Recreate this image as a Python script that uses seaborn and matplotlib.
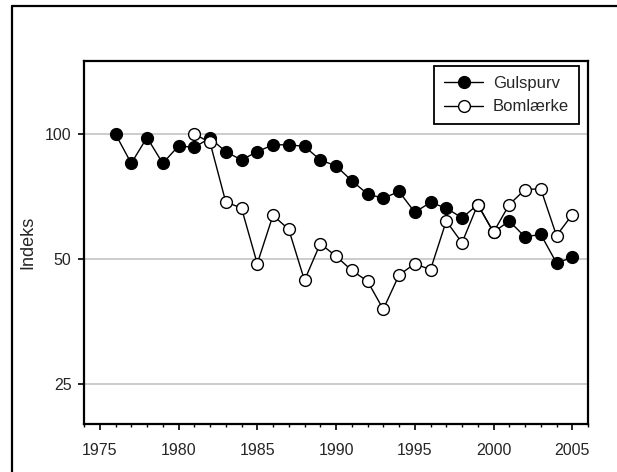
import matplotlib
matplotlib.use("Agg")
import matplotlib.pyplot as plt
from matplotlib.lines import Line2D
from matplotlib.ticker import FixedLocator, FixedFormatter, MultipleLocator, NullLocator
import numpy as np
import pandas as pd
import seaborn as sns

# Index values per year (1976 = 100 for Gulspurv, 1981 = 100 for Bomlærke)
years_gulspurv = list(range(1976, 2006))
gulspurv = [100, 85.0, 98.1, 85.0, 93.6, 92.9, 97.8, 90.7, 86.6, 90.7,
            94.2, 94.2, 93.4, 86.6, 83.8, 77.2, 71.7, 70.0, 72.7, 64.8,
            68.4, 66.3, 62.8, 67.6, 58.0, 61.7, 56.5, 57.3, 48.9, 50.4]

years_bomlaerke = list(range(1981, 2006))
bomlaerke = [100, 95.5, 68.6, 66.3, 48.7, 63.7, 58.9, 44.4, 54.4, 50.8,
             46.9, 44.2, 37.8, 45.7, 48.7, 47.1, 61.7, 54.7, 67.6, 58.0,
             67.6, 73.5, 73.8, 56.9, 63.9]

y_ticks = [25, 50, 100]
y_tick_labels = ["25", "50", "100"]
x_ticks = [1975, 1980, 1985, 1990, 1995, 2000, 2005]

df_g = pd.DataFrame({"År": years_gulspurv, "Indeks": gulspurv})
df_b = pd.DataFrame({"År": years_bomlaerke, "Indeks": bomlaerke})

sns.set_style("white")
plt.rcParams["font.family"] = ["Liberation Sans", "DejaVu Sans"]

fig = plt.figure(figsize=(6.17, 4.72), dpi=100)
ax = fig.add_axes([84 / 617, 1 - 424 / 472, (588 - 84) / 617, (424 - 61) / 472])

common = dict(color="black", linewidth=1.0, markersize=8.5,
              markeredgecolor="black", markeredgewidth=1.0, ax=ax)
sns.lineplot(data=df_g, x="År", y="Indeks", marker="o",
             markerfacecolor="black", label="Gulspurv", zorder=3, **common)
sns.lineplot(data=df_b, x="År", y="Indeks", marker="o",
             markerfacecolor="white", label="Bomlærke", zorder=4, **common)

ax.set_yscale("log")
ax.set_ylim(20, 150)
ax.set_xlim(1974, 2006)

ax.yaxis.set_major_locator(FixedLocator(y_ticks))
ax.yaxis.set_major_formatter(FixedFormatter(y_tick_labels))
ax.yaxis.set_minor_locator(NullLocator())
ax.xaxis.set_major_locator(FixedLocator(x_ticks))
ax.xaxis.set_minor_locator(MultipleLocator(1))

ax.grid(axis="y", which="major", color="#c8c8c8", linewidth=1.3, zorder=0)
ax.set_axisbelow(True)

ax.tick_params(axis="both", which="major", direction="out", length=4.5,
               width=1.2, color="black", labelsize=11.5, pad=4.5,
               bottom=True, left=True, top=False, right=False)
ax.tick_params(axis="x", which="minor", direction="out", length=2.5,
               width=1.0, color="black", bottom=True, top=False)
ax.tick_params(axis="x", which="major", pad=9)

for sp in ax.spines.values():
    sp.set_color("black")
    sp.set_linewidth(1.6)

ax.set_xlabel("")
ax.set_ylabel("Indeks", fontsize=13, labelpad=6)

leg = ax.legend(loc="upper right", bbox_to_anchor=(0.982, 0.986),
                frameon=True, fancybox=False, fontsize=12,
                handlelength=2.3, handletextpad=0.6, borderpad=0.6,
                labelspacing=0.5, borderaxespad=0)
leg.get_frame().set_edgecolor("black")
leg.get_frame().set_linewidth(1.3)
leg.get_frame().set_facecolor("white")
leg.get_frame().set_alpha(1)

# Page frame around the figure
fx = 12 / 617
fy = 1 - 6 / 472
fig.add_artist(Line2D([fx, fx], [0, fy], transform=fig.transFigure,
                      color="black", linewidth=1.6))
fig.add_artist(Line2D([fx, 1], [fy, fy], transform=fig.transFigure,
                      color="black", linewidth=1.6))

fig.savefig("out.png", dpi=100, facecolor="white")
